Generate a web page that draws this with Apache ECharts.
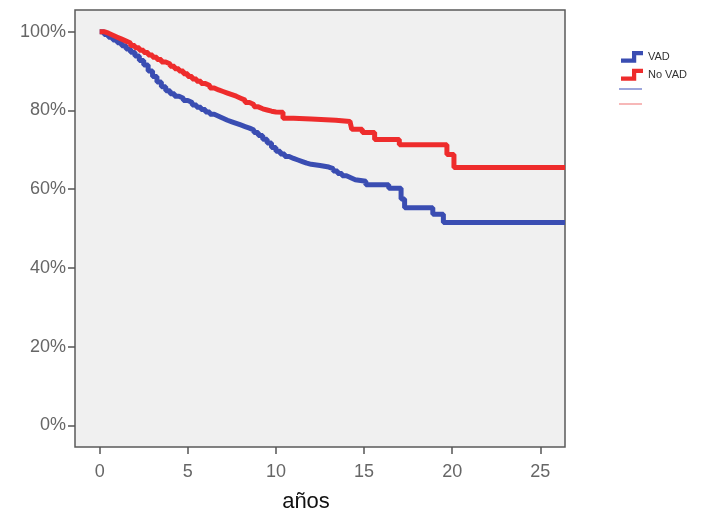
<!DOCTYPE html>
<html>
<head>
<meta charset="utf-8">
<script src="https://cdn.jsdelivr.net/npm/echarts@6/dist/echarts.min.js"></script>
<style>
html,body{margin:0;padding:0;background:#fff;}
#c{width:701px;height:513px;}
</style>
</head>
<body>
<div id="c"></div>
<script>
// ---- data ----
const seriesNames = ['VAD', 'No VAD'];
const vadYears = [0, 0.25, 0.5, 0.75, 1, 1.25, 1.5, 1.75, 2, 2.25, 2.5, 2.75, 3, 3.25, 3.5, 3.75, 4, 4.25, 4.5, 4.75, 5, 5.25, 5.5, 5.75, 6, 6.25, 6.5, 6.75, 7, 7.25, 7.5, 7.75, 8, 8.25, 8.5, 8.75, 9, 9.25, 9.5, 9.75, 10, 10.25, 10.5, 10.75, 11, 11.25, 11.5, 11.75, 12, 12.5, 13, 13.25, 13.5, 13.75, 14, 14.25, 14.5, 15.1, 16.4, 17.1, 17.3, 18.9, 19.5, 26.4];
const vadSurv  = [100, 99.3, 98.6, 97.9, 97.2, 96.4, 95.6, 94.8, 93.8, 92.7, 91.5, 90, 88.6, 87.2, 86, 85, 84.2, 83.6, 83.1, 82.5, 82, 81.4, 80.8, 80.2, 79.6, 79, 78.5, 78, 77.5, 77.1, 76.7, 76.3, 75.9, 75.5, 75, 74.4, 73.6, 72.7, 71.7, 70.6, 69.6, 68.9, 68.3, 67.8, 67.4, 67, 66.6, 66.3, 66, 65.6, 65.2, 64.6, 64, 63.4, 62.9, 62.4, 62, 61.1, 60.2, 57.5, 55.3, 53.6, 51.5, 51.5];
const noVadYears = [0, 0.25, 0.5, 0.75, 1, 1.25, 1.5, 1.75, 2, 2.25, 2.5, 2.75, 3, 3.25, 3.5, 3.75, 4, 4.25, 4.5, 4.75, 5, 5.25, 5.5, 5.75, 6, 6.25, 6.5, 6.75, 7, 7.25, 7.5, 7.75, 8, 8.25, 8.5, 8.75, 9, 9.25, 9.5, 9.75, 10, 10.4, 11, 12, 13.4, 14.2, 14.3, 14.9, 15.6, 17, 19.7, 20.1, 26.4];
const noVadSurv  = [100, 99.6, 99.1, 98.6, 98.1, 97.6, 97.1, 96.5, 95.9, 95.3, 94.7, 94.1, 93.5, 92.9, 92.3, 91.8, 91.2, 90.6, 90, 89.3, 88.6, 88, 87.4, 86.8, 86.3, 85.7, 85.2, 84.8, 84.4, 84, 83.6, 83.1, 82.6, 82, 81.5, 80.9, 80.4, 80.1, 79.8, 79.6, 79.5, 78, 77.8, 77.5, 77.2, 77, 75.2, 74.4, 72.6, 71.3, 68.8, 65.5, 65.5];
const xTicks = [0, 5, 10, 15, 20, 25];
const yTicks = [0, 20, 40, 60, 80, 100];
const xTitle = 'años';

const pair = (xs, ys) => xs.map((x, i) => [x, ys[i]]);
const FONT = 'Arial, "Liberation Sans", sans-serif';
const BLUE = '#3a4db2';
const RED = '#ee2c2c';
const stepIcon = 'path://M0,9 L13,9 L13,0 L26,0 L26,5 L18,5 L18,14 L0,14 Z';

const chart = echarts.init(document.getElementById('c'), null, {renderer: 'canvas'});
chart.setOption({
  animation: false,
  backgroundColor: '#ffffff',
  grid: {
    left: 75, right: 136, top: 10, bottom: 66,
    containLabel: false, outerBoundsMode: 'none',
    show: true, backgroundColor: '#f0f0f0', borderColor: '#5a5a5a', borderWidth: 1.5
  },
  legend: {
    orient: 'vertical',
    left: 616, top: 46,
    itemWidth: 22, itemHeight: 12, itemGap: 6,
    textStyle: {fontFamily: FONT, fontSize: 11, color: '#333'},
    data: [
      {name: seriesNames[0], icon: stepIcon},
      {name: seriesNames[1], icon: stepIcon}
    ]
  },
  xAxis: {
    type: 'value',
    min: -1.4, max: 26.4,
    name: xTitle,
    nameLocation: 'middle',
    nameGap: 44,
    nameTextStyle: {fontFamily: FONT, fontSize: 22, color: '#111', padding: [0, 28, 0, 0]},
    axisLine: {show: false, onZero: false},
    splitLine: {show: false},
    axisTick: {show: true, length: 7, inside: false, customValues: xTicks, lineStyle: {color: '#555', width: 1.5}},
    axisLabel: {customValues: xTicks, fontFamily: FONT, fontSize: 18, color: '#666', margin: 16}
  },
  yAxis: {
    type: 'value',
    min: -5.5, max: 105.5,
    axisLine: {show: false, onZero: false},
    splitLine: {show: false},
    axisTick: {show: true, length: 7, inside: false, customValues: yTicks, lineStyle: {color: '#555', width: 1.5}},
    axisLabel: {customValues: yTicks, formatter: '{value}%', fontFamily: FONT, fontSize: 18, color: '#666', margin: 9}
  },
  series: [
    {
      name: seriesNames[0], type: 'line', step: 'end', showSymbol: false,
      data: pair(vadYears, vadSurv),
      lineStyle: {color: BLUE, width: 5}, itemStyle: {color: BLUE}
    },
    {
      name: seriesNames[1], type: 'line', step: 'end', showSymbol: false,
      data: pair(noVadYears, noVadSurv),
      lineStyle: {color: RED, width: 5}, itemStyle: {color: RED}
    }
  ],
  graphic: [
    {type: 'line', shape: {x1: 619, y1: 89, x2: 642, y2: 89}, style: {stroke: '#7c88d0', lineWidth: 1.5}},
    {type: 'line', shape: {x1: 619, y1: 104, x2: 642, y2: 104}, style: {stroke: '#f4a0a0', lineWidth: 1.5}}
  ]
});
</script>
</body>
</html>
